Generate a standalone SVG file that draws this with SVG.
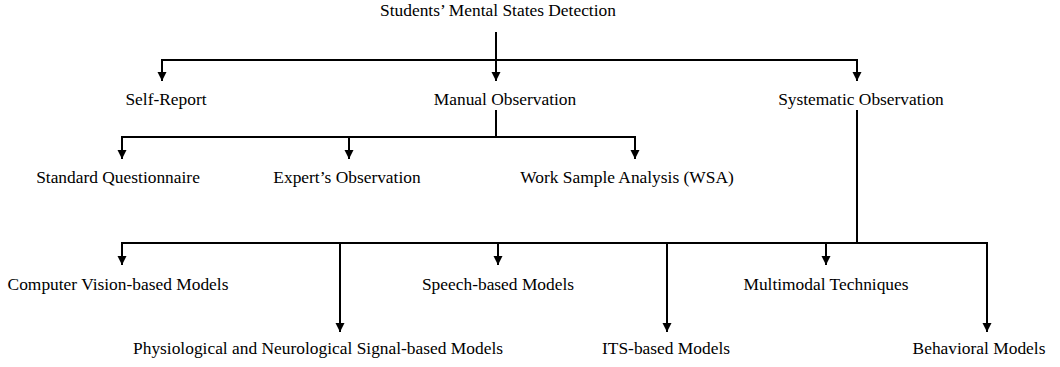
<svg xmlns="http://www.w3.org/2000/svg" width="1060" height="367" viewBox="0 0 1060 367">
  <style>
    .wire { fill: none; stroke: #000; stroke-width: 2; }
  </style>
  <defs>
    <marker id="arrow" markerUnits="userSpaceOnUse" markerWidth="10" markerHeight="10" refX="9" refY="4.5" orient="auto">
      <path d="M0,0 L9,4.5 L0,9 z" fill="#000"/>
    </marker>
  </defs>
  <rect width="1060" height="367" fill="#fff"/>

  <g id="connectors">
    <!-- root to level 1 -->
    <path class="wire" d="M496,32 V81" marker-end="url(#arrow)"/>
    <path class="wire" d="M162,60 H857"/>
    <path class="wire" d="M162,59 V81" marker-end="url(#arrow)"/>
    <path class="wire" d="M857,59 V81" marker-end="url(#arrow)"/>
    <!-- manual observation branch -->
    <path class="wire" d="M496,110 V137"/>
    <path class="wire" d="M122,137 H635"/>
    <path class="wire" d="M122,136 V159" marker-end="url(#arrow)"/>
    <path class="wire" d="M349,137 V159" marker-end="url(#arrow)"/>
    <path class="wire" d="M635,136 V159" marker-end="url(#arrow)"/>
    <!-- systematic observation branch -->
    <path class="wire" d="M857,110 V243"/>
    <path class="wire" d="M122,243 H987"/>
    <path class="wire" d="M122,242 V265" marker-end="url(#arrow)"/>
    <path class="wire" d="M340,243 V332" marker-end="url(#arrow)"/>
    <path class="wire" d="M498,243 V265" marker-end="url(#arrow)"/>
    <path class="wire" d="M667,243 V332" marker-end="url(#arrow)"/>
    <path class="wire" d="M826,243 V265" marker-end="url(#arrow)"/>
    <path class="wire" d="M987,242 V332" marker-end="url(#arrow)"/>
  </g>

  <g font-family="Liberation Serif, Times New Roman, serif" font-size="17.4" fill="#000" text-anchor="middle">
    <g id="root"><text x="498" y="16">Students’ Mental States Detection</text></g>
    <g id="self-report"><text x="166" y="105">Self-Report</text></g>
    <g id="manual-observation"><text x="505" y="105">Manual Observation</text></g>
    <g id="systematic-observation"><text x="861" y="105">Systematic Observation</text></g>
    <g id="standard-questionnaire"><text x="118" y="183">Standard Questionnaire</text></g>
    <g id="experts-observation"><text x="347" y="183">Expert’s Observation</text></g>
    <g id="work-sample-analysis"><text x="627" y="183">Work Sample Analysis (WSA)</text></g>
    <g id="computer-vision"><text x="118" y="290">Computer Vision-based Models</text></g>
    <g id="speech"><text x="498" y="290">Speech-based Models</text></g>
    <g id="multimodal"><text x="826" y="290">Multimodal Techniques</text></g>
    <g id="physiological"><text x="318" y="354">Physiological and Neurological Signal-based Models</text></g>
    <g id="its"><text x="666" y="354">ITS-based Models</text></g>
    <g id="behavioral"><text x="979" y="354">Behavioral Models</text></g>
  </g>
</svg>
